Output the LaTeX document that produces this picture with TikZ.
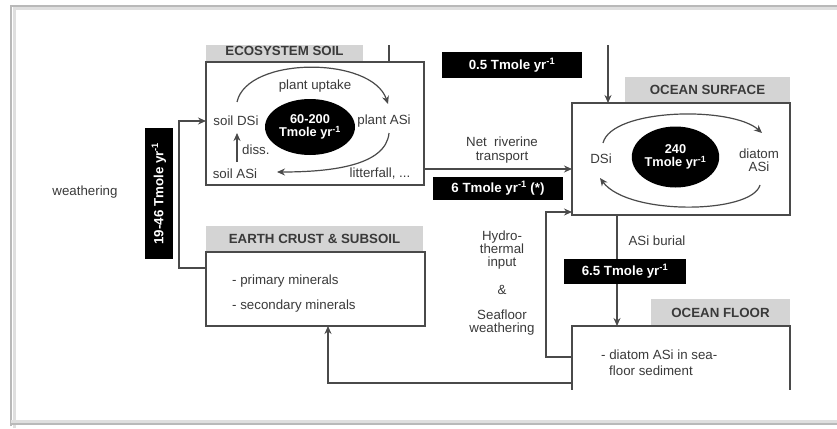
\documentclass[tikz,border=0pt]{standalone}
\usepackage{fontspec}
\setmainfont{Liberation Sans}
\usetikzlibrary{arrows.meta,shapes.geometric}
\definecolor{txt}{HTML}{3A3A3A}
\definecolor{ln}{HTML}{4A4A4A}
\definecolor{tab}{HTML}{D4D4D4}
\begin{document}
\begin{tikzpicture}[x=1pt,y=-1pt,
  every node/.style={font=\fontsize{13.3}{15}\selectfont, text=txt},
  box/.style={draw=ln, line width=1.4pt, fill=white, inner sep=0pt, outer sep=0pt},
  tabbox/.style={fill=tab, inner sep=0pt, outer sep=0pt, font=\fontsize{13.3}{15}\selectfont\bfseries, text=txt},
  blob/.style={ellipse, fill=black, inner sep=0pt, align=center, text=white, font=\fontsize{12.8}{14}\selectfont\bfseries},
  lab/.style={fill=black, text=white, inner sep=0pt, font=\fontsize{13.3}{15}\selectfont\bfseries},
  con/.style={draw=ln, line width=1.4pt},
  arr/.style={con, -{Stealth[length=8pt,width=7pt]}},
  cyc/.style={draw=ln, line width=1.2pt, -{Stealth[length=8pt,width=7pt]}},
  plain/.style={align=center, inner sep=1pt}
]
\useasboundingbox (0,0) rectangle (837,428);
\fill[white] (0,0) rectangle (837,428);
% frame
\draw[gray!25, line width=3pt] (14,428) -- (14,9) -- (837,9);
\draw[gray!55, line width=1.2pt] (11,426) -- (11,6) -- (837,6);
\draw[gray!25, line width=3pt] (11,421) -- (837,421);
\draw[gray!55, line width=1.2pt] (11,424) -- (837,424);

\begin{scope}
\clip (12,46) rectangle (837,389);
% tabs
\node[tabbox, minimum width=157, minimum height=24, anchor=north west] (ecotab) at (206,38) {};
\node[font=\fontsize{13.3}{15}\selectfont\bfseries] at (284.5,50.5) {ECOSYSTEM SOIL};
\node[tabbox, minimum width=165, minimum height=26, anchor=north west] (surftab) at (625,77) {OCEAN SURFACE};
\node[tabbox, minimum width=217, minimum height=26, anchor=north west] (crusttab) at (206,226) {EARTH CRUST \& SUBSOIL};
\node[tabbox, minimum width=139, minimum height=27, anchor=north west] (floortab) at (651,299) {OCEAN FLOOR};

% boxes
\node[box, minimum width=218, minimum height=123, anchor=north west] (eco) at (206,62) {};
\node[box, minimum width=218, minimum height=112, anchor=north west] (surf) at (572,103) {};
\node[box, minimum width=219, minimum height=74, anchor=north west] (crust) at (206,252) {};
\node[box, minimum width=218, minimum height=100, anchor=north west] (floor) at (572,326) {};

% ecosystem soil content
\node[blob, minimum width=90, minimum height=56] (ecoblob) at (310,127) {60-200\\[-1pt]Tmole yr\textsuperscript{-1}};
\node[plain] (sdsi) at (236,121) {soil DSi};
\node[plain] (pasi) at (384,121) {plant ASi};
\node[plain] (pu) at (315,86) {plant uptake};
\node[plain] (sasi) at (235,174) {soil ASi};
\node[plain] (lit) at (380,174) {litterfall, ...};
\node[plain, anchor=west] (diss) at (241,150) {diss.};
\coordinate (c1) at (237,102);
\coordinate (c2) at (388,104);
\coordinate (c3) at (389,133);
\coordinate (c4) at (277,172);
\coordinate (d1) at (237,162);
\coordinate (d2) at (237,133);
\draw[cyc] (c1) .. controls (247,56) and (372,56) .. (c2);
\draw[cyc] (c3) .. controls (386,166) and (330,172) .. (c4);
\draw[cyc] (d1) -- (d2);

% ocean surface content
\node[blob, minimum width=85, minimum height=61] (surfblob) at (675.5,157) {240\\[-1pt]Tmole yr\textsuperscript{-1}};
\node[plain] (dsi) at (601,159) {DSi};
\node[plain] (dasi) at (759,160) {diatom\\[-2pt]ASi};
\coordinate (o1) at (603,143);
\coordinate (o2) at (762,133);
\coordinate (o3) at (760,185);
\coordinate (o4) at (600,178);
\draw[cyc] (o1) .. controls (612,108) and (732,106) .. (o2);
\draw[cyc] (o3) .. controls (752,214) and (628,216) .. (o4);

% crust content
\node[plain, anchor=west] (pm) at (231,281) {- primary minerals};
\node[plain, anchor=west] (sm) at (231,306) {- secondary minerals};

% floor content
\node[plain, anchor=west] (fl1) at (600,355) {- diatom ASi in sea-};
\node[plain, anchor=west] (fl2) at (608,371) {floor sediment};

% black labels
\node[lab, minimum width=140, minimum height=26] (l05) at (512,65) {0.5 Tmole yr\textsuperscript{-1}};
\node[lab, minimum width=130, minimum height=23] (l6) at (498,188.5) {6 Tmole yr\textsuperscript{-1} (*)};
\node[lab, minimum width=122, minimum height=25] (l65) at (625,271.5) {6.5 Tmole yr\textsuperscript{-1}};
\node[lab, minimum width=131, minimum height=28, rotate=90] (l19) at (159,193.5) {19-46 Tmole yr\textsuperscript{-1}};

% other text
\node[plain] (weath) at (85,192) {weathering};
\node[plain] (riv) at (502,150) {Net\ \ riverine\\[-1pt]transport};
\node[plain] (burial) at (657,241) {ASi burial};
\node[plain] (hyd) at (502,250) {Hydro-\\[-2pt]thermal\\[-2pt]input};
\node[plain] (amp) at (502,290) {\&};
\node[plain] (sfw) at (502,323) {Seafloor\\[-2pt]weathering};

% connectors
\coordinate (w1) at (179,268);
\coordinate (w2) at (179,121);
\draw[arr] (crust.west |- w1) -- (w1) -- (w2) -- (eco.west |- w2);

\coordinate (t1) at (608,40);
\draw[arr] (t1) -- (surf.north -| t1);
\coordinate (t2) at (389,40);
\draw[con] (t2) -- (eco.north -| t2);

\coordinate (r1) at (500,169);
\draw[arr] (eco.east |- r1) -- (surf.west |- r1);

\coordinate (h1) at (546,357);
\coordinate (h2) at (546,212);
\draw[arr] (floor.west |- h1) -- (h1) -- (h2) -- (surf.west |- h2);

\coordinate (b1) at (617,250);
\draw[con] (surf.south -| b1) -- (l65.north -| b1);
\draw[arr] (l65.south -| b1) -- (floor.north -| b1);

\coordinate (f1) at (328,383);
\draw[arr] (floor.west |- f1) -- (f1) -- (crust.south -| f1);
\end{scope}
\end{tikzpicture}
\end{document}
